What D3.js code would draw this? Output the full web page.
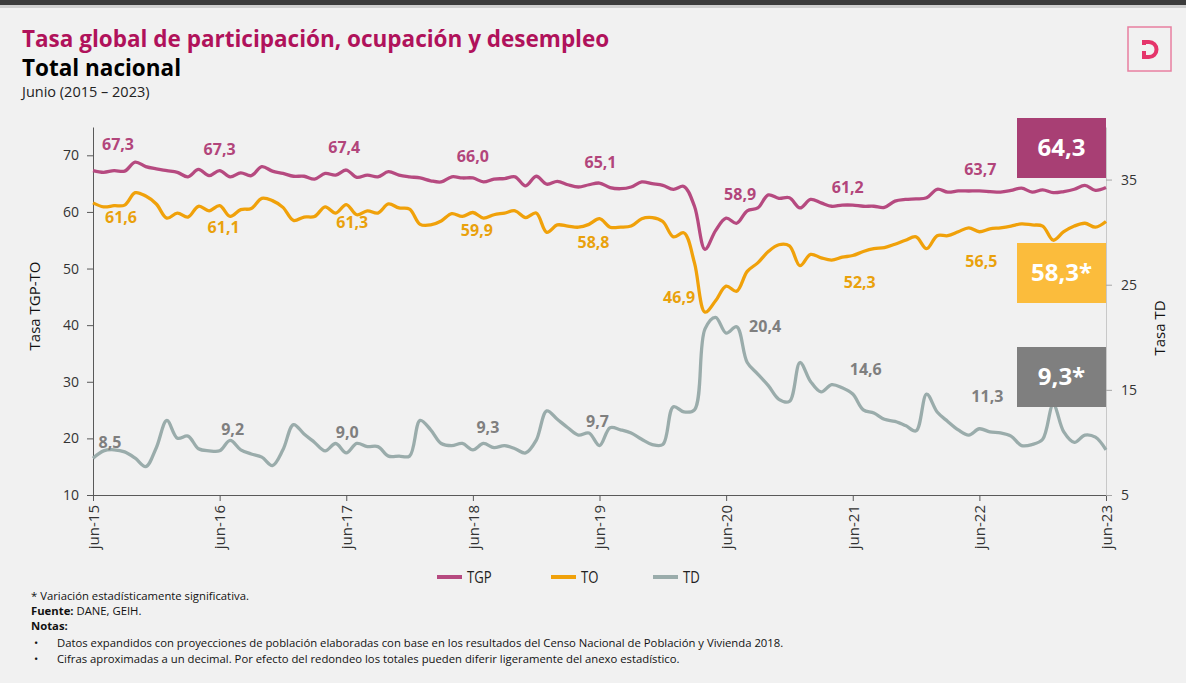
<!DOCTYPE html>
<html>
<head>
<meta charset="utf-8">
<script src="https://cdn.jsdelivr.net/npm/d3@7"></script>
<style>
  body { margin: 0; background: #f1f1f1; }
  svg { display: block; font-family: "Open Sans", sans-serif; }
</style>
</head>
<body>
<div id="chart"></div>
<script>
// Monthly series, jun-2015 .. jun-2023 (97 months)
const tgp = [
  67.3, 67.0, 67.3, 67.2, 68.8, 68.0, 67.6, 67.3, 67.0, 66.2, 67.5, 66.4,
  67.3, 66.2, 66.9, 66.4, 68.0, 67.2, 66.8, 66.3, 66.3, 65.8, 66.8, 66.5,
  67.4, 66.1, 66.5, 66.2, 67.1, 66.5, 66.2, 66.0, 65.5, 65.3, 66.2, 66.0,
  66.0, 65.3, 65.8, 65.9, 66.2, 64.6, 66.3, 64.9, 65.4, 64.8, 64.4, 64.8,
  65.1, 64.3, 64.1, 64.4, 65.3, 65.0, 64.7, 64.0, 64.5, 61.0, 53.4, 56.7,
  58.9, 58.0, 60.2, 60.7, 63.0, 62.4, 62.5, 60.7, 62.2, 61.6, 61.0, 61.2,
  61.2, 61.0, 61.0, 60.8, 61.9, 62.2, 62.3, 62.5, 64.0, 63.5, 63.7, 63.7,
  63.7, 63.6, 63.5, 63.8, 64.2, 63.5, 63.9, 63.4, 63.6, 64.0, 64.7, 63.8,
  64.3
];
const to = [
  61.6, 60.9, 61.1, 61.2, 63.4, 62.8, 61.4, 58.9, 59.8, 59.1, 61.0, 60.2,
  61.1, 59.2, 60.4, 60.6, 62.4, 62.0, 60.8, 58.5, 59.1, 59.2, 60.9, 59.8,
  61.3, 59.5, 60.2, 59.8, 61.4, 60.7, 60.5, 57.8, 57.7, 58.4, 59.7, 59.2,
  59.9, 58.9, 59.5, 59.8, 60.2, 59.0, 59.8, 56.4, 57.7, 57.5, 57.3, 57.8,
  58.8, 57.3, 57.3, 57.5, 58.8, 59.0, 58.3, 55.6, 56.3, 51.0, 42.3, 44.3,
  46.9, 46.0, 49.5, 51.0, 53.0, 54.2, 54.0, 50.5, 52.5, 51.9, 51.5, 52.0,
  52.3, 53.0, 53.5, 53.7, 54.3, 55.0, 55.6, 53.5, 55.8, 55.8, 56.5, 57.2,
  56.5, 57.0, 57.2, 57.5, 57.9, 57.7, 57.5, 55.0, 56.5, 57.5, 58.0, 57.3,
  58.3
];
const td = [
  8.5, 9.2, 9.3, 9.1, 8.5, 7.7, 9.5, 12.1, 10.4, 10.6, 9.4, 9.2,
  9.2, 10.2, 9.3, 8.9, 8.6, 7.8, 9.3, 11.7, 10.8, 10.0, 9.2, 9.9,
  9.0, 9.9, 9.6, 9.6, 8.7, 8.7, 8.7, 12.1, 11.2, 9.9, 9.7, 9.9,
  9.3, 9.9, 9.5, 9.7, 9.4, 9.0, 10.2, 13.0, 12.2, 11.4, 10.7, 10.9,
  9.7, 11.4, 11.2, 10.9, 10.3, 9.8, 9.8, 13.4, 12.9, 13.1, 20.8, 21.9,
  20.4, 21.0, 17.6, 16.5, 15.4, 14.1, 13.9, 17.6, 15.8, 14.8, 15.5, 15.2,
  14.6, 13.1, 12.8, 12.2, 12.0, 11.6, 11.1, 14.6, 12.9, 12.0, 11.2, 10.7,
  11.3, 11.0, 10.9, 10.6, 9.7, 9.8, 10.3, 13.6, 11.0, 10.0, 10.7, 10.5,
  9.3
];

const xTickLabels = ["jun-15", "jun-16", "jun-17", "jun-18", "jun-19", "jun-20", "jun-21", "jun-22", "jun-23"];
const labelIdx = [0, 12, 24, 36, 48, 60, 72, 84];
const leftTicks = [10, 20, 30, 40, 50, 60, 70];
const rightTicks = [5, 15, 25, 35];
const seriesNames = ["TGP", "TO", "TD"];
const lastMarks = ["", "*", "*"];

// Set the dimensions of the chart
const width = 1186;
const height = 683;
const margin = { top: 127, right: 80, bottom: 188, left: 93 };

const colors = {
  tgp: "#b64a80", to: "#f0a10a", td: "#9aacab",
  tgpText: "#b2457b", toText: "#e9a10c", tdText: "#7f7f7f",
  tgpBox: "#a83f74", toBox: "#fbbc3c", tdBox: "#7f7f7f"
};

const fmt = v => d3.format(".1f")(v).replace(".", ",");

const svg = d3.select("#chart")
  .append("svg")
  .attr("width", width)
  .attr("height", height);

svg.append("rect").attr("width", width).attr("height", height).attr("fill", "#f1f1f1");
// dark band on top of the slide
svg.append("rect").attr("width", width).attr("height", 5).attr("fill", "#3b3b3b");
svg.append("rect").attr("y", 5).attr("width", width).attr("height", 3).attr("fill", "#cfcfcf");

// Titles
svg.append("text").attr("x", 22).attr("y", 47)
  .attr("font-size", 22.5).attr("font-weight", 700).attr("fill", "#b0125b")
  .text("Tasa global de participación, ocupación y desempleo");
svg.append("text").attr("x", 22).attr("y", 76)
  .attr("font-size", 22.5).attr("font-weight", 700).attr("fill", "#000")
  .text("Total nacional");
svg.append("text").attr("x", 22).attr("y", 97)
  .attr("font-size", 14.5).attr("fill", "#222")
  .text("Junio (2015 – 2023)");

// Logo
svg.append("rect").attr("x", 1128).attr("y", 27).attr("width", 43).attr("height", 44)
  .attr("fill", "none").attr("stroke", "#e87fa0").attr("stroke-width", 1.5);
svg.append("path")
  .attr("d", "M1144,45 v-3 h5 a7.5,7.5 0 0 1 0,15 h-5 v-6")
  .attr("fill", "none").attr("stroke", "#e5356b").attr("stroke-width", 4);

// Scales
const x = d3.scaleLinear().domain([0, tgp.length - 1]).range([margin.left, width - margin.right]);
const yL = d3.scaleLinear().domain([10, 75]).range([height - margin.bottom, margin.top]);
const yR = d3.scaleLinear().domain([5, 40]).range([height - margin.bottom, margin.top]);

// Axes
const gx = svg.append("g")
  .attr("transform", `translate(0, ${height - margin.bottom})`)
  .call(d3.axisBottom(x)
    .tickValues(xTickLabels.map((d, i) => i * 12))
    .tickFormat((d, i) => xTickLabels[i])
    .tickSize(6).tickSizeOuter(0));
gx.select(".domain").attr("stroke", "#595959");
gx.selectAll(".tick line").attr("stroke", "#595959");
gx.selectAll(".tick text")
  .attr("transform", "rotate(-90)")
  .attr("x", -10).attr("y", 0).attr("dy", "0.35em")
  .attr("text-anchor", "end")
  .attr("font-size", 15).attr("font-family", "Open Sans").attr("fill", "#333");

const gl = svg.append("g")
  .attr("transform", `translate(${margin.left}, 0)`)
  .call(d3.axisLeft(yL).tickValues(leftTicks).tickSize(6).tickSizeOuter(0));
gl.select(".domain").attr("stroke", "#595959");
gl.selectAll(".tick line").attr("stroke", "#595959");
gl.selectAll(".tick text").attr("x", -14)
  .attr("font-size", 14).attr("font-family", "Open Sans").attr("fill", "#333");

const gr = svg.append("g")
  .attr("transform", `translate(${width - margin.right}, 0)`)
  .call(d3.axisRight(yR).tickValues(rightTicks).tickSize(6).tickSizeOuter(0));
gr.select(".domain").attr("stroke", "#c8c8c8");
gr.selectAll(".tick line").attr("stroke", "#a6a6a6");
gr.selectAll(".tick text").attr("x", 15)
  .attr("font-size", 14).attr("font-family", "Open Sans").attr("fill", "#333");

// Axis titles
svg.append("text")
  .attr("transform", "rotate(-90)")
  .attr("x", -306).attr("y", 40)
  .attr("text-anchor", "middle").attr("font-size", 15).attr("fill", "#111")
  .text("Tasa TGP-TO");
svg.append("text")
  .attr("transform", "rotate(-90)")
  .attr("x", -328).attr("y", 1165)
  .attr("text-anchor", "middle").attr("font-size", 15).attr("fill", "#111")
  .text("Tasa TD");

// Lines
const lineL = d3.line().x((d, i) => x(i)).y(d => yL(d)).curve(d3.curveCatmullRom);
const lineR = d3.line().x((d, i) => x(i)).y(d => yR(d)).curve(d3.curveCatmullRom);

svg.append("path").datum(td).attr("d", lineR)
  .attr("fill", "none").attr("stroke", colors.td).attr("stroke-width", 3.3);
svg.append("path").datum(to).attr("d", lineL)
  .attr("fill", "none").attr("stroke", colors.to).attr("stroke-width", 3.3);
svg.append("path").datum(tgp).attr("d", lineL)
  .attr("fill", "none").attr("stroke", colors.tgp).attr("stroke-width", 3.3);

// Data labels (offsets from the point they describe)
const labelOffsets = {
  tgp: [[25, -21], [0, -16], [-2, -17], [0, -16], [1, -15], [14, -18], [-5, -12], [1, -16]],
  to: [[28, 20], [4, 27], [6, 23], [4, 24], [-6, 29], [-47, 17], [7, 32], [2, 35]],
  td: [[17, -10], [13, -16], [1, -15], [15, -17], [-2, -19], [39, -1], [13, -19], [8, -27]]
};

function addLabels(values, scale, offsets, color) {
  svg.append("g").selectAll("text")
    .data(labelIdx)
    .enter()
    .append("text")
    .attr("x", (d, i) => x(d) + offsets[i][0])
    .attr("y", (d, i) => scale(values[d]) + offsets[i][1])
    .attr("text-anchor", "middle")
    .attr("font-size", 16).attr("font-weight", 700)
    .attr("fill", color)
    .text(d => fmt(values[d]));
}
addLabels(tgp, yL, labelOffsets.tgp, colors.tgpText);
addLabels(to, yL, labelOffsets.to, colors.toText);
addLabels(td, yR, labelOffsets.td, colors.tdText);

// Boxes with the latest value
const boxes = [
  { v: tgp[tgp.length - 1], mark: lastMarks[0], top: 118, fill: colors.tgpBox },
  { v: to[to.length - 1], mark: lastMarks[1], top: 243, fill: colors.toBox },
  { v: td[td.length - 1], mark: lastMarks[2], top: 347, fill: colors.tdBox }
];
const boxW = 89, boxH = 60;
const bx = x(tgp.length - 1) - boxW;
boxes.forEach(b => {
  svg.append("rect").attr("x", bx).attr("y", b.top).attr("width", boxW).attr("height", boxH)
    .attr("fill", b.fill);
  svg.append("text").attr("x", bx + boxW / 2).attr("y", b.top + 38)
    .attr("text-anchor", "middle").attr("font-size", 24).attr("font-weight", 700)
    .attr("fill", "#fff")
    .text(fmt(b.v) + b.mark);
});

// Legend
const legendX = [437, 551, 653];
const legendColors = [colors.tgp, colors.to, colors.td];
seriesNames.forEach((name, i) => {
  svg.append("line")
    .attr("x1", legendX[i]).attr("x2", legendX[i] + 25)
    .attr("y1", 577).attr("y2", 577)
    .attr("stroke", legendColors[i]).attr("stroke-width", 4);
  svg.append("text").attr("x", legendX[i] + 30).attr("y", 583)
    .attr("font-size", 16).attr("fill", "#222")
    .attr("transform", `translate(${(legendX[i] + 30) * 0.18}, 0) scale(0.82, 1)`)
    .text(name);
});

// Footnotes
const foot = svg.append("g").attr("font-size", 11.3).attr("fill", "#111");
foot.append("text").attr("x", 31).attr("y", 600)
  .text("* Variación estadísticamente significativa.");
const f2 = foot.append("text").attr("x", 31).attr("y", 615);
f2.append("tspan").attr("font-weight", 700).text("Fuente:");
f2.append("tspan").text(" DANE, GEIH.");
foot.append("text").attr("x", 31).attr("y", 630).attr("font-weight", 700).text("Notas:");
const notes = [
  "Datos expandidos con proyecciones de población elaboradas con base en los resultados del Censo Nacional de Población y Vivienda 2018.",
  "Cifras aproximadas a un decimal. Por efecto del redondeo los totales pueden diferir ligeramente del anexo estadístico."
];
notes.forEach((t, i) => {
  foot.append("text").attr("x", 34).attr("y", 647 + i * 16).text("•");
  foot.append("text").attr("x", 57).attr("y", 647 + i * 16).text(t);
});
</script>
</body>
</html>
